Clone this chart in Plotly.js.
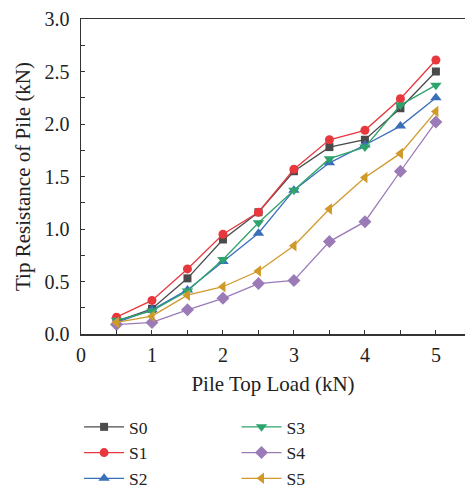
<!DOCTYPE html>
<html>
<head>
<meta charset="utf-8">
<script src="https://cdn.plot.ly/plotly-3.0.1.min.js"></script>
<style>html,body{margin:0;padding:0;background:#fff;}#chart{width:465px;height:492px;}</style>
</head>
<body>
<div id="chart"></div>
<script>
const load = [0.5, 1, 1.5, 2, 2.5, 3, 3.5, 4, 4.5, 5];
const seriesNames = ["S0", "S1", "S2", "S3", "S4", "S5"];
const S0 = [0.12, 0.24, 0.53, 0.90, 1.16, 1.55, 1.78, 1.85, 2.15, 2.50];
const S1 = [0.16, 0.32, 0.62, 0.95, 1.16, 1.57, 1.85, 1.94, 2.24, 2.61];
const S2 = [0.11, 0.23, 0.42, 0.69, 0.96, 1.37, 1.63, 1.80, 1.98, 2.25];
const S3 = [0.13, 0.22, 0.41, 0.71, 1.06, 1.37, 1.67, 1.78, 2.18, 2.37];
const S4 = [0.09, 0.11, 0.23, 0.34, 0.48, 0.51, 0.88, 1.07, 1.55, 2.02];
const S5 = [0.11, 0.17, 0.37, 0.45, 0.60, 0.84, 1.19, 1.49, 1.72, 2.12];

const values = [S0, S1, S2, S3, S4, S5];
const colors = ["#4a4a4a", "#e8383d", "#3a6fba", "#2ea36b", "#9b7bb7", "#d09a2a"];
const symbols = ["square", "circle", "triangle-up", "triangle-down", "diamond", "triangle-left"];
const sizes = [8, 9, 10, 10, 10, 10];
const legendOf = ["legend", "legend", "legend", "legend2", "legend2", "legend2"];

const traces = values.map((v, i) => ({
  x: load, y: v, name: seriesNames[i], type: "scatter", mode: "lines+markers",
  line: {color: colors[i], width: 1.3},
  marker: {symbol: symbols[i], size: sizes[i], color: colors[i]},
  legend: legendOf[i]
}));

const fam = "Liberation Serif, Times New Roman, serif";
const tickFont = {family: fam, size: 20, color: "#222"};
const titleFont = {family: fam, size: 21, color: "#222"};
const legendBase = {
  orientation: "v", xanchor: "left", yanchor: "top",
  font: {family: fam, size: 17.5, color: "#222"},
  bgcolor: "rgba(0,0,0,0)", tracegroupgap: 0, itemwidth: 40
};

const layout = {
  width: 465, height: 492,
  margin: {l: 81, r: 0, t: 19, b: 158, autoexpand: false},
  paper_bgcolor: "#fff", plot_bgcolor: "#fff",
  font: tickFont,
  showlegend: true,
  xaxis: {
    range: [0, 5.41], dtick: 1, tick0: 0, ticks: "inside", ticklen: 4, tickwidth: 1, tickcolor: "#333",
    minor: {dtick: 0.5, ticks: "inside", ticklen: 4, tickwidth: 1, tickcolor: "#333"},
    showgrid: false, zeroline: false, showline: true, linecolor: "#333", linewidth: 1.5, mirror: true,
    title: {text: "Pile Top Load (kN)", font: titleFont, standoff: 12},
    tickfont: tickFont, ticklabelstandoff: 2, automargin: false
  },
  yaxis: {
    range: [0, 3.0], dtick: 0.5, tick0: 0, tickformat: ".1f", ticks: "inside", ticklen: 4, tickwidth: 1, tickcolor: "#333",
    minor: {dtick: 0.25, ticks: "inside", ticklen: 4, tickwidth: 1, tickcolor: "#333"},
    showgrid: false, zeroline: false, showline: true, linecolor: "#333", linewidth: 1.5,
    title: {text: "Tip Resistance of Pile (kN)", font: titleFont, standoff: 8},
    tickfont: tickFont, ticklabelstandoff: 6, automargin: false
  },
  legend: Object.assign({}, legendBase, {x: -0.005, y: -0.238}),
  legend2: Object.assign({}, legendBase, {x: 0.405, y: -0.238})
};

Plotly.newPlot("chart", traces, layout, {displayModeBar: false, staticPlot: true});
</script>
</body>
</html>
